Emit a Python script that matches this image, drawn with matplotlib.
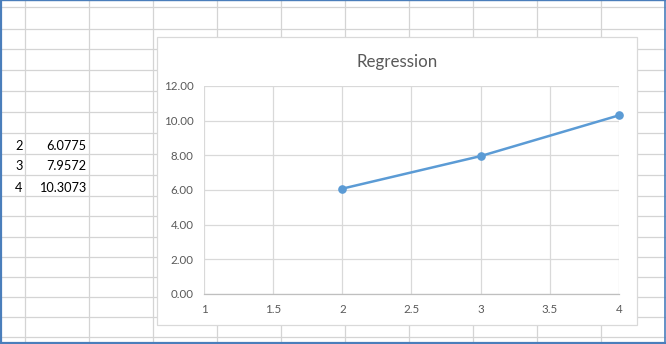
import matplotlib
matplotlib.use("Agg")
import matplotlib.pyplot as plt
from matplotlib.patches import Rectangle

# ---- data ----
x_vals = [2, 3, 4]
y_vals = [6.0775, 7.9572, 10.3073]
chart_title = "Regression"
x_ticks = [1, 1.5, 2, 2.5, 3, 3.5, 4]
x_tick_labels = ["1", "1.5", "2", "2.5", "3", "3.5", "4"]
y_ticks = [0, 2, 4, 6, 8, 10, 12]

plt.rcParams['font.family'] = ['Lato', 'DejaVu Sans']

W, H = 666, 344
fig = plt.figure(figsize=(W / 100, H / 100), dpi=100)
fig.patch.set_facecolor('white')

# ---- spreadsheet background (pixel coordinates) ----
bg = fig.add_axes([0, 0, 1, 1])
bg.set_xlim(0, W)
bg.set_ylim(H, 0)
bg.axis('off')

grid_c = '#d4d4d4'
col_edges = [25, 89, 153, 217, 281, 345, 409, 473, 537, 601]
row_edges = [7, 29, 49, 70, 91, 112, 133, 154, 175, 196, 216, 237, 257, 277, 297, 317, 337]
bg.vlines(col_edges, 0, H, colors=grid_c, linewidth=0.9)
bg.hlines(row_edges, 0, W, colors=grid_c, linewidth=0.9)

# cell values
first_row = 6  # index into row_edges of the row holding the first data point
for i, (xv, yv) in enumerate(zip(x_vals, y_vals)):
    base = row_edges[first_row + i + 1] - 4.5
    bg.text(22.5, base, str(xv), ha='right', va='baseline', fontsize=9.2, color='black')
    bg.text(86.5, base, str(yv), ha='right', va='baseline', fontsize=9.2, color='black')

# chart area box
bg.add_patch(Rectangle((157, 37), 480, 288, facecolor='white', edgecolor='#d9d9d9',
                       linewidth=0.9, zorder=5))

# window frame
frame_c = '#4a7ebb'
bg.vlines([0.8], 0, H, colors=frame_c, linewidth=1.6, zorder=10)
bg.vlines([665.2], 0, H, colors=frame_c, linewidth=1.2, zorder=10)
bg.hlines([0.4], 0, W, colors=frame_c, linewidth=1.0, zorder=10)
bg.hlines([343], 0, W, colors=frame_c, linewidth=1.6, zorder=10)

# ---- chart ----
left, right, top, bottom = 204, 619, 86, 294
ax = fig.add_axes([left / W, 1 - bottom / H, (right - left) / W, (bottom - top) / H])
ax.set_facecolor('none')
ax.set_zorder(20)
ax.plot(x_vals, y_vals, color='#5b9bd5', linewidth=1.8, marker='o', markersize=5.2,
        markeredgecolor='#5b9bd5', markerfacecolor='#5b9bd5', zorder=5, clip_on=False)
ax.set_xlim(1, 4)
ax.set_ylim(0, 12)
ax.set_xticks(x_ticks)
ax.set_xticklabels(x_tick_labels)
ax.set_yticks(y_ticks)
ax.set_yticklabels([f"{v:.2f}" for v in y_ticks])
ax.grid(True, color='#d9d9d9', linewidth=0.9)
ax.set_axisbelow(True)
for s in ['top', 'right', 'left']:
    ax.spines[s].set_visible(False)
ax.spines['bottom'].set_color('#bfbfbf')
ax.spines['bottom'].set_linewidth(0.9)
ax.tick_params(length=0, labelsize=8.3, labelcolor='#595959', pad=7.5)

fig.text(397 / W, 1 - 67 / H, chart_title, ha='center', va='baseline',
         fontsize=12.2, color='#595959', zorder=30)

fig.savefig('out.png', dpi=100, facecolor='white')
